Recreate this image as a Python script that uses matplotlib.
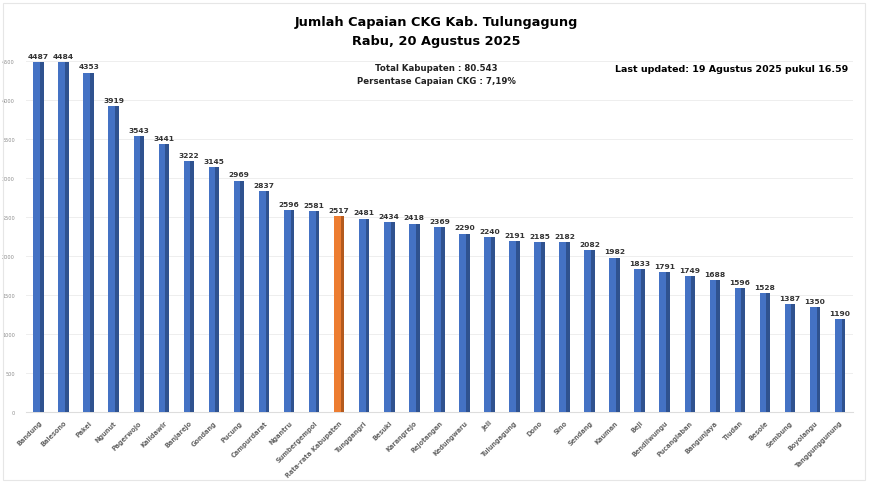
import matplotlib
matplotlib.use('Agg')
import matplotlib.pyplot as plt
import matplotlib.patches as mpatches
import numpy as np

kecamatan = ["Bandung", "Balesono", "Pakel", "Ngunut", "Pagerwojo", "Kalidawir",
             "Banjarejo", "Gondang", "Pucung", "Campurdarat", "Ngantru", "Sumbergempol",
             "Rata-rata Kabupaten", "Tunggangri", "Besuki", "Karangrejo", "Rejotangan",
             "Kedungwaru", "Jeli", "Tulungagung", "Dono", "Sino", "Sendang", "Kauman",
             "Beji", "Bendilwungu", "Pucanglaban", "Bangunjaya", "Tiudan", "Besole",
             "Sembung", "Boyolangu", "Tanggunggunung"]
capaian = [4487, 4484, 4353, 3919, 3543, 3441, 3222, 3145, 2969, 2837, 2596, 2581,
           2517, 2481, 2434, 2418, 2369, 2290, 2240, 2191, 2185, 2182, 2082, 1982,
           1833, 1791, 1749, 1688, 1596, 1528, 1387, 1350, 1190]
yticks = [0, 500, 1000, 1500, 2000, 2500, 3000, 3500, 4000, 4500]

BLUE = "#4472C4"
BLUE_DARK = "#2F528F"
ORANGE = "#ED7D31"
ORANGE_DARK = "#B45A1E"

fig = plt.figure(figsize=(8.7, 4.89), dpi=100, facecolor="white")
ax = fig.add_axes([0.030, 0.155, 0.950, 0.742])

x = np.arange(len(kecamatan))
is_avg = [k.startswith("Rata-rata") for k in kecamatan]
main_c = [ORANGE if a else BLUE for a in is_avg]
dark_c = [ORANGE_DARK if a else BLUE_DARK for a in is_avg]

w = 0.42
ax.bar(x, capaian, w, color=main_c, zorder=3)
# darker right side for the cylinder look
ax.bar(x + w * 0.32, capaian, w * 0.36, color=dark_c, zorder=4)

for i, v in enumerate(capaian):
    ax.text(i, v + 40, str(v), ha="center", va="bottom", fontsize=5.4,
            fontweight="bold", color="#333333", zorder=5)

ax.set_xlim(-0.5, len(kecamatan) - 0.5)
ax.set_ylim(0, 4650)
ax.set_yticks(yticks)
ax.set_yticklabels([str(t) for t in yticks], fontsize=3.6, color="#8c8c8c")
ax.set_xticks(x)
ax.set_xticklabels(kecamatan, rotation=45, ha="right", rotation_mode="anchor",
                   fontsize=4.7, fontweight="bold", color="#666666")
ax.tick_params(axis="both", length=0, pad=5)
ax.tick_params(axis="y", pad=8)
ax.grid(axis="y", color="#eeeeee", linewidth=0.7, zorder=0)
for s in ["top", "right", "left"]:
    ax.spines[s].set_visible(False)
ax.spines["bottom"].set_color("#dddddd")
ax.spines["bottom"].set_linewidth(0.8)

fig.text(0.502, 0.955, "Jumlah Capaian CKG Kab. Tulungagung", ha="center", va="center",
         fontsize=9.3, fontweight="bold", color="black")
fig.text(0.502, 0.915, "Rabu, 20 Agustus 2025", ha="center", va="center",
         fontsize=9.3, fontweight="bold", color="black")
fig.text(0.502, 0.859, "Total Kabupaten : 80.543", ha="center", va="center",
         fontsize=6.2, fontweight="bold", color="#222222")
fig.text(0.502, 0.834, "Persentase Capaian CKG : 7,19%", ha="center", va="center",
         fontsize=6.2, fontweight="bold", color="#222222")
fig.text(0.841, 0.857, "Last updated: 19 Agustus 2025 pukul 16.59", ha="center",
         va="center", fontsize=6.8, fontweight="bold", color="black")

fig.patches.append(mpatches.Rectangle((0.004, 0.016), 0.990, 0.975, transform=fig.transFigure,
                                      fill=False, edgecolor="#e6e6e6", linewidth=0.8))

plt.savefig("out.png", dpi=100, facecolor="white")
plt.close()
